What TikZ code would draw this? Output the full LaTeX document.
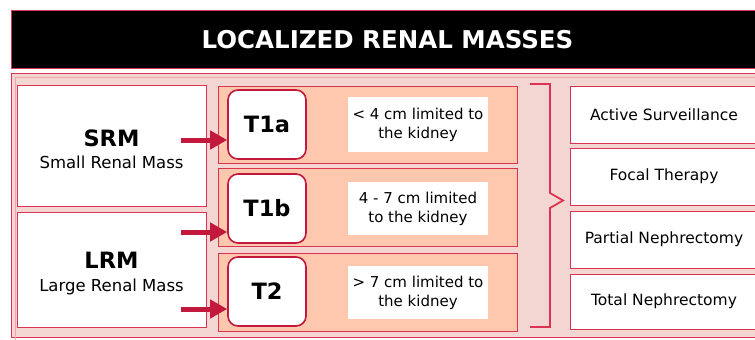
\documentclass[tikz,border=0pt]{standalone}
\usepackage{fontspec}
\setmainfont{DejaVu Sans}
\usetikzlibrary{arrows.meta}
\definecolor{bgpink}{HTML}{F3D6D2}
\definecolor{peach}{HTML}{FDC8AD}
\definecolor{redline}{HTML}{DD3352}
\definecolor{arrowred}{HTML}{C2183C}
\definecolor{innerline}{HTML}{EFA7AE}
\tikzset{
  whitebox/.style={draw=redline, line width=1pt, fill=white, inner sep=0pt},
  rowbox/.style={draw=redline, line width=1pt, fill=peach, inner sep=0pt},
  tbox/.style={draw=arrowred, line width=1.6pt, fill=white, rounded corners=10pt, inner sep=0pt,
     font=\fontsize{22.5}{24}\selectfont\bfseries},
  descbox/.style={fill=white, inner sep=0pt, align=center, font=\fontsize{15}{19}\selectfont},
  treat/.style={whitebox, font=\fontsize{15.5}{17}\selectfont},
  bigtxt/.style={font=\fontsize{22.5}{24}\selectfont\bfseries, inner sep=0pt},
  smalltxt/.style={font=\fontsize{16.5}{19}\selectfont, inner sep=0pt},
  fatarrow/.style={draw=arrowred, line width=5pt, -{Triangle[length=17pt,width=18pt]}},
}
\begin{document}
\begin{tikzpicture}[x=1pt,y=-1pt]
\useasboundingbox (0,0) rectangle (755,340);
% title bar
\node[draw=redline, line width=1pt, fill=black, minimum width=800pt, minimum height=58pt, inner sep=0pt, anchor=north west] (bar) at (11,10) {};
\node[text=white, font=\fontsize{24.5}{26}\selectfont\bfseries, inner sep=0pt] (title) at (387.5,40) {LOCALIZED RENAL MASSES};
% background panel
\node[draw=redline, line width=1pt, fill=bgpink, minimum width=800pt, minimum height=264pt, inner sep=0pt, anchor=north west] (panel) at (11,73) {};
\draw[innerline, line width=0.8pt] (15,340) -- (15,77) -- (800,77);
% left boxes
\node[whitebox, minimum width=189pt, minimum height=121pt] (srmbox) at (111.5,145.5) {};
\node[bigtxt] (srm) at (111.5,138) {SRM};
\node[smalltxt] (srmsub) at (111.5,162) {Small Renal Mass};
\node[whitebox, minimum width=189pt, minimum height=115pt] (lrmbox) at (111.5,269.5) {};
\node[bigtxt] (lrm) at (111.5,260) {LRM};
\node[smalltxt] (lrmsub) at (111.5,287) {Large Renal Mass};
% peach rows
\node[rowbox, minimum width=299pt, minimum height=77pt] (row1) at (367.5,124.5) {};
\node[rowbox, minimum width=299pt, minimum height=78pt] (row2) at (367.5,207) {};
\node[rowbox, minimum width=299pt, minimum height=78pt] (row3) at (367.5,292) {};
% T boxes
\node[tbox, minimum width=78pt, minimum height=69pt] (t1a) at (267,124.5) {T1a};
\node[tbox, minimum width=78pt, minimum height=69pt] (t1b) at (267,208.5) {T1b};
\node[tbox, minimum width=78pt, minimum height=69pt] (t2) at (267,291.5) {T2};
% description boxes
\node[descbox, minimum width=140pt, minimum height=55pt] (d1) at (418,124.5) {< 4 cm limited to\\the kidney};
\node[descbox, minimum width=140pt, minimum height=53pt] (d2) at (418,208.5) {4 - 7 cm limited\\to the kidney};
\node[descbox, minimum width=140pt, minimum height=53pt] (d3) at (418,292.5) {> 7 cm limited to\\the kidney};
% treatments
\node[treat, minimum width=188pt, minimum height=57pt] (as) at (664,114.5) {Active Surveillance};
\node[treat, minimum width=188pt, minimum height=57pt] (ft) at (664,176.5) {Focal Therapy};
\node[treat, minimum width=188pt, minimum height=57pt] (pn) at (664,239.5) {Partial Nephrectomy};
\node[treat, minimum width=188pt, minimum height=55pt] (tn) at (664,301.5) {Total Nephrectomy};
% brace
\coordinate (btop) at (530,84);
\coordinate (bbot) at (530,327);
\coordinate (btip) at (563,200.5);
\draw[redline, line width=1.8pt] (btop) -- (550,84) -- (550,193) -- (btip) -- (550,208) -- (550,327) -- (bbot);
% arrows
\coordinate (a1) at (181,140);
\coordinate (a2) at (181,232);
\coordinate (a3) at (181,309);
\draw[fatarrow] (a1) -- (a1 -| t1a.west);
\draw[fatarrow] (a2) -- (a2 -| t1b.west);
\draw[fatarrow] (a3) -- (a3 -| t2.west);
\end{tikzpicture}
\end{document}
